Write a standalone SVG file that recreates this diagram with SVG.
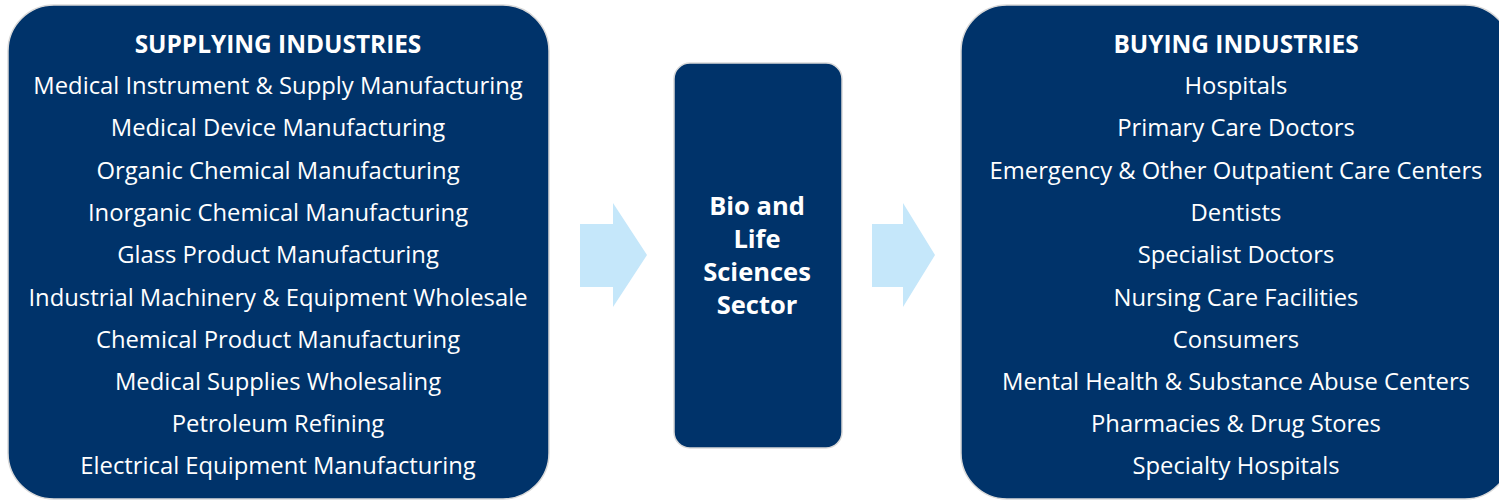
<svg xmlns="http://www.w3.org/2000/svg" width="1499" height="500" viewBox="0 0 1499 500">
<style>
.box{fill:#00336A;stroke:#d9d9d9;stroke-width:1.5}
.arrow{fill:#C5E7FA}
text{font-family:"Open Sans","Noto Sans","DejaVu Sans",sans-serif;fill:#ffffff;text-anchor:middle}
.title{font-weight:bold;font-size:24.4px}
.item{font-size:23.8px}
.mid{font-weight:bold;font-size:25.5px}
</style>
<rect width="1499" height="500" fill="#ffffff"/>
<g id="supplying">
<rect class="box" x="8" y="5" width="541" height="494" rx="46" ry="46"/>
<text class="title" x="278" y="53">SUPPLYING INDUSTRIES</text>
<text class="item" x="278" y="94">Medical Instrument &amp; Supply Manufacturing</text>
<text class="item" x="278" y="136">Medical Device Manufacturing</text>
<text class="item" x="278" y="179">Organic Chemical Manufacturing</text>
<text class="item" x="278" y="221">Inorganic Chemical Manufacturing</text>
<text class="item" x="278" y="263">Glass Product Manufacturing</text>
<text class="item" x="278" y="306">Industrial Machinery &amp; Equipment Wholesale</text>
<text class="item" x="278" y="348">Chemical Product Manufacturing</text>
<text class="item" x="278" y="390">Medical Supplies Wholesaling</text>
<text class="item" x="278" y="432">Petroleum Refining</text>
<text class="item" x="278" y="474">Electrical Equipment Manufacturing</text>
</g>
<g id="sector">
<rect class="box" x="674" y="63" width="168" height="385" rx="16" ry="16"/>
<text class="mid" x="757" y="215">Bio and</text>
<text class="mid" x="757" y="248">Life</text>
<text class="mid" x="757" y="281">Sciences</text>
<text class="mid" x="757" y="314">Sector</text>
</g>
<g id="buying">
<rect class="box" x="961" y="5" width="550" height="494" rx="46" ry="46"/>
<text class="title" x="1236" y="53">BUYING INDUSTRIES</text>
<text class="item" x="1236" y="94">Hospitals</text>
<text class="item" x="1236" y="136">Primary Care Doctors</text>
<text class="item" x="1236" y="179">Emergency &amp; Other Outpatient Care Centers</text>
<text class="item" x="1236" y="221">Dentists</text>
<text class="item" x="1236" y="263">Specialist Doctors</text>
<text class="item" x="1236" y="306">Nursing Care Facilities</text>
<text class="item" x="1236" y="348">Consumers</text>
<text class="item" x="1236" y="390">Mental Health &amp; Substance Abuse Centers</text>
<text class="item" x="1236" y="432">Pharmacies &amp; Drug Stores</text>
<text class="item" x="1236" y="474">Specialty Hospitals</text>
</g>
<g id="connectors">
<polygon class="arrow" points="580,224 613,224 613,203 647,255 613,307 613,287 580,287"/>
<polygon class="arrow" points="872,224 903,224 903,203 935,255 903,307 903,287 872,287"/>
</g>
</svg>
